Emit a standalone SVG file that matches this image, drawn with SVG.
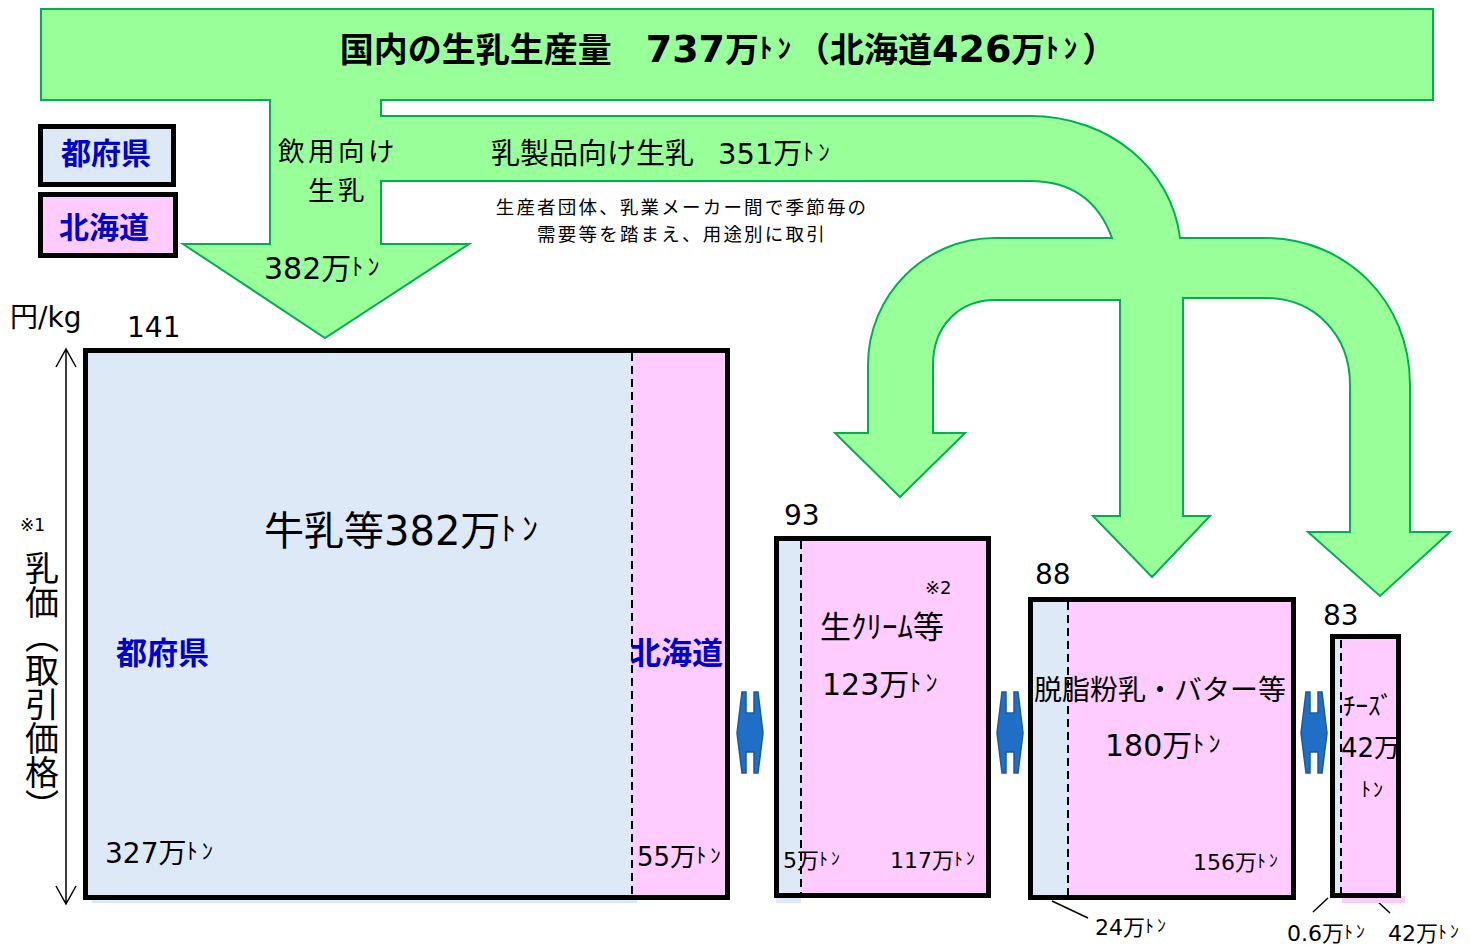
<svg xmlns="http://www.w3.org/2000/svg" width="1471" height="945" viewBox="0 0 1471 945">
<style>
text{font-family:"DejaVu Sans","Noto Sans CJK JP",sans-serif;fill:#000}
.jp{font-family:"Noto Sans CJK JP",sans-serif}
.b{font-weight:bold}
.blue{fill:#0000cc;font-weight:bold;font-family:"Noto Sans CJK JP",sans-serif}
.t{font-size:80%;letter-spacing:0.18em;font-family:"Noto Sans CJK JP",sans-serif}
.box{stroke:#000;stroke-width:5}
.dash{stroke:#000;stroke-width:2;stroke-dasharray:8 5}
.lead{stroke:#000;stroke-width:1.5;fill:none}
.flow{fill:#99ff99;stroke:#00b050;stroke-width:2;stroke-linejoin:miter}
.dbl{fill:#1f6fc7;stroke:#1a5a9e;stroke-width:1.5}
</style>
<defs>
<path id="dblarrow" d="M-8,-41 L-4,-41 L-4,-20 L4,-20 L4,-41 L8,-41 L13,0 L8,40 L4,40 L4,19 L-4,19 L-4,40 L-8,40 L-13,0 Z"/>
</defs>

<g id="connectors">
<path class="flow" d="M41,9 L1433,9 L1433,100 L381,100 L381,116 L1030,116 C1110,116 1172,170 1180,238 L1265,238 C1345,238 1410,300 1410,385 L1410,532 L1450,532 L1380,596 L1308,532 L1350,532 L1350,385 C1350,335 1315,298 1265,298 L1183,298 L1183,516 L1210,516 L1152,577 L1093,516 L1120,516 L1120,300 L995,300 C960,300 933,325 933,365 L933,433 L965,433 L900,497 L835,433 L868,433 L868,365 C868,295 925,238 995,238 L1112,238 C1100,205 1075,181 1030,181 L381,181 L381,244 L469,244 L325,338 L183,244 L270,244 L270,100 L41,100 Z"/>
<use href="#dblarrow" class="dbl" x="750" y="733"/>
<use href="#dblarrow" class="dbl" x="1010" y="733"/>
<use href="#dblarrow" class="dbl" x="1314" y="733"/>
<path class="lead" d="M66,350 L66,903 M56,367 L66,349 L76,367 M56,886 L66,904 L76,886"/>
<path class="lead" d="M1052,901 L1088,918 M1313,912 L1328,898 M1377,901 L1390,913"/>
</g>

<g id="flow-labels">
<text class="b" x="728" y="62" text-anchor="middle" font-size="34"><tspan class="jp">国内の生乳生産量　</tspan><tspan font-size="38">737</tspan><tspan class="jp">万</tspan><tspan class="t" baseline-shift="4">ﾄﾝ</tspan><tspan class="jp">（北海道</tspan><tspan font-size="38">426</tspan><tspan class="jp">万</tspan><tspan class="t" baseline-shift="4">ﾄﾝ</tspan><tspan class="jp">）</tspan></text>
<text class="jp" x="338" y="161" text-anchor="middle" font-size="26.5" letter-spacing="3.5">飲用向け</text>
<text class="jp" x="338" y="200" text-anchor="middle" font-size="26.5" letter-spacing="3.5">生乳</text>
<text x="264" y="279" font-size="30">382<tspan class="jp">万</tspan><tspan class="t" baseline-shift="4">ﾄﾝ</tspan></text>
<text x="491" y="164" font-size="29"><tspan class="jp">乳製品向け生乳</tspan><tspan x="718">351</tspan><tspan class="jp">万</tspan><tspan class="t" baseline-shift="4">ﾄﾝ</tspan></text>
<text class="jp" x="682" y="214" text-anchor="middle" font-size="18.5" letter-spacing="2.2">生産者団体、乳業メーカー間で季節毎の</text>
<text class="jp" x="682" y="241" text-anchor="middle" font-size="18.5" letter-spacing="2.2">需要等を踏まえ、用途別に取引</text>
</g>

<g id="legend-prefecture">
<rect x="40.5" y="126.5" width="133" height="58" fill="#dde9f6" class="box" stroke-width="4"/>
<text class="blue" x="106" y="164" text-anchor="middle" font-size="30">都府県</text>
</g>
<g id="legend-hokkaido">
<rect x="40.5" y="194.5" width="135" height="61" fill="#ffccff" class="box" stroke-width="4"/>
<text class="blue" x="104" y="238" text-anchor="middle" font-size="30">北海道</text>
</g>

<g id="axis-labels">
<text x="10" y="327" font-size="28"><tspan class="jp">円</tspan>/kg</text>
<text x="20" y="531" font-size="17">※1</text>
<text class="jp" x="42" y="551" font-size="34" style="writing-mode:vertical-rl">乳価（取引価格）</text>
</g>

<g id="box-milk">
<rect x="92" y="897" width="545" height="6" fill="#dde9f6"/>
<rect x="85" y="350" width="547" height="548" fill="#dde9f6"/>
<rect x="632" y="350" width="96" height="548" fill="#ffccff"/>
<line class="dash" x1="632" y1="353" x2="632" y2="895"/>
<rect x="85.5" y="350.5" width="642" height="547" fill="none" class="box"/>
<text x="127" y="337" font-size="28">141</text>
<text x="264" y="545" font-size="40"><tspan class="jp">牛乳等</tspan>382<tspan class="jp">万</tspan><tspan class="t" baseline-shift="5">ﾄﾝ</tspan></text>
<text class="blue" x="116" y="664" font-size="31">都府県</text>
<text class="blue" x="630" y="664" font-size="31">北海道</text>
<text x="105" y="863" font-size="28">327<tspan class="jp">万</tspan><tspan class="t" baseline-shift="4">ﾄﾝ</tspan></text>
<text x="637" y="866" font-size="26">55<tspan class="jp">万</tspan><tspan class="t" baseline-shift="3">ﾄﾝ</tspan></text>
</g>

<g id="box-cream">
<rect x="776" y="896" width="25" height="7" fill="#dde9f6"/>
<rect x="776" y="538" width="25" height="358" fill="#dde9f6"/>
<rect x="801" y="538" width="188" height="358" fill="#ffccff"/>
<line class="dash" x1="801" y1="541" x2="801" y2="894"/>
<rect x="776.5" y="538.5" width="212" height="357" fill="none" class="box"/>
<text x="784" y="525" font-size="28">93</text>
<text x="925" y="594" font-size="18">※2</text>
<text class="jp" x="820" y="638" font-size="31">生ｸﾘｰﾑ等</text>
<text x="822" y="695" font-size="30">123<tspan class="jp">万</tspan><tspan class="t" baseline-shift="4">ﾄﾝ</tspan></text>
<text x="783" y="868" font-size="22">5<tspan class="jp">万</tspan><tspan class="t" baseline-shift="3">ﾄﾝ</tspan></text>
<text x="890" y="868" font-size="22">117<tspan class="jp">万</tspan><tspan class="t" baseline-shift="3">ﾄﾝ</tspan></text>
</g>

<g id="box-butter">
<rect x="1030" y="600" width="38" height="298" fill="#dde9f6"/>
<rect x="1068" y="600" width="226" height="298" fill="#ffccff"/>
<line class="dash" x1="1068" y1="602" x2="1068" y2="896"/>
<rect x="1030.5" y="599.5" width="263" height="298" fill="none" class="box"/>
<text x="1035" y="584" font-size="28">88</text>
<text class="jp" x="1034" y="700" font-size="28">脱脂粉乳・バター等</text>
<text x="1105" y="756" font-size="30">180<tspan class="jp">万</tspan><tspan class="t" baseline-shift="4">ﾄﾝ</tspan></text>
<text x="1193" y="870" font-size="22">156<tspan class="jp">万</tspan><tspan class="t" baseline-shift="3">ﾄﾝ</tspan></text>
<text x="1095" y="935" font-size="22">24<tspan class="jp">万</tspan><tspan class="t" baseline-shift="3">ﾄﾝ</tspan></text>
</g>

<g id="box-cheese">
<rect x="1342" y="896" width="63" height="7" fill="#ffccff"/>
<rect x="1332" y="637" width="9" height="259" fill="#dde9f6"/>
<rect x="1341" y="637" width="58" height="259" fill="#ffccff"/>
<line class="dash" x1="1341" y1="640" x2="1341" y2="893"/>
<rect x="1332.5" y="636.5" width="66" height="259" fill="none" class="box"/>
<text x="1323" y="625" font-size="28">83</text>
<text class="jp" x="1343" y="715" font-size="25">ﾁｰｽﾞ</text>
<text x="1341" y="757" font-size="26">42<tspan class="jp">万</tspan></text>
<text class="jp" x="1361" y="797" style="font-size:20px" letter-spacing="2">ﾄﾝ</text>
<text x="1287" y="941" font-size="22">0.6<tspan class="jp">万</tspan><tspan class="t" baseline-shift="3">ﾄﾝ</tspan></text>
<text x="1388" y="941" font-size="22">42<tspan class="jp">万</tspan><tspan class="t" baseline-shift="3">ﾄﾝ</tspan></text>
</g>
</svg>
